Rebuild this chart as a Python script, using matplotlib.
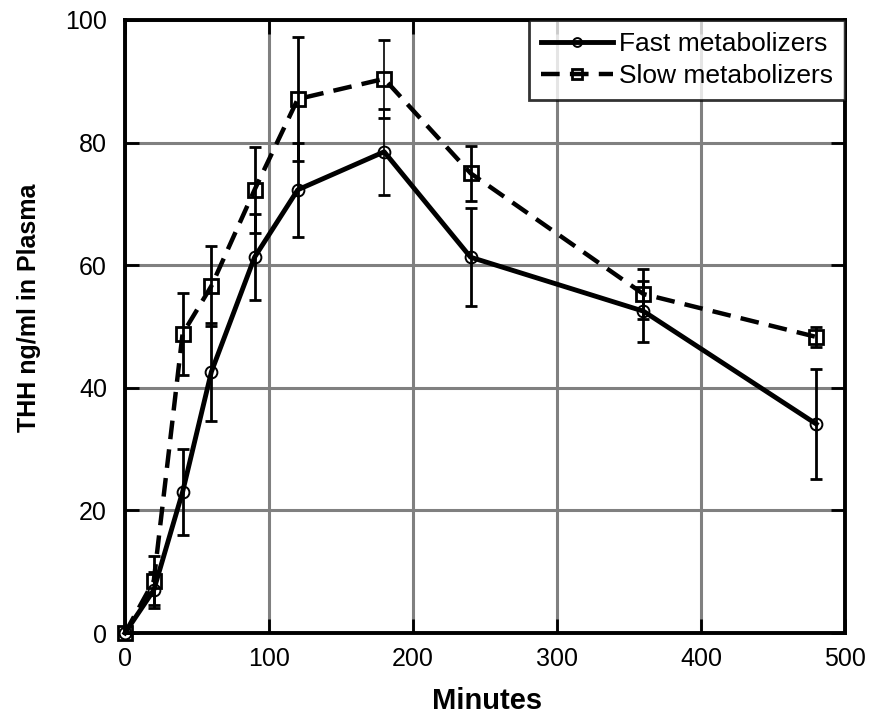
import numpy as np
import matplotlib
matplotlib.use("Agg")
import matplotlib.pyplot as plt

plt.rcParams['font.family'] = ['Liberation Sans', 'DejaVu Sans']

minutes = [0, 20, 40, 60, 90, 120, 180, 240, 360, 480]
fast_mean = [0, 7.0, 23.0, 42.6, 61.3, 72.3, 78.5, 61.3, 52.5, 34.1]
fast_err = [0, 3.0, 7.0, 8.0, 7.0, 7.7, 7.0, 8.0, 5.0, 8.9]
slow_mean = [0, 8.5, 48.8, 56.6, 72.3, 87.1, 90.4, 75.0, 55.3, 48.3]
slow_err = [0, 4.0, 6.7, 6.5, 7.0, 10.1, 6.4, 4.5, 4.1, 1.6]

fig = plt.figure(figsize=(8.69, 7.19), dpi=100)
ax = fig.add_axes([0.1438, 0.1196, 0.8286, 0.8526])

ax.grid(True, color='#808080', linewidth=2.2, zorder=0)
ax.set_axisbelow(True)

# error bars first, then the lines with markers on top
bar_widths = [2, 2, 2, 2, 2, 2, 1.2, 2, 2, 2]
for mean, err in [(slow_mean, slow_err), (fast_mean, fast_err)]:
    eb = ax.errorbar(minutes, mean, yerr=err, fmt='none', ecolor='black',
                     elinewidth=2, capsize=4, capthick=2, zorder=3)
    eb[2][0].set_linewidths(bar_widths)

ax.plot(minutes, fast_mean, color='black', linewidth=3.5, marker='o',
        markersize=8.5, markerfacecolor='none', markeredgewidth=1.4,
        label='Fast metabolizers', zorder=4, clip_on=False)
ax.plot(minutes, slow_mean, color='black', linewidth=3.2,
        linestyle=(0, (4.2, 2.3)), marker='s', markersize=10,
        markerfacecolor='none', markeredgewidth=2,
        label='Slow metabolizers', zorder=4, clip_on=False)

ax.set_xlim(0, 500)
ax.set_ylim(0, 100)
ax.set_xticks([0, 100, 200, 300, 400, 500])
ax.set_yticks([0, 20, 40, 60, 80, 100])
ax.tick_params(direction='in', length=10, width=2, labelsize=18,
               top=True, right=True)
ax.tick_params(axis='y', pad=13)
ax.tick_params(axis='x', pad=10)
for s in ax.spines.values():
    s.set_linewidth(2.8)

fig.text(487 / 869, 1 - 701 / 719, 'Minutes', fontsize=21, fontweight='bold',
         ha='center', va='center')
fig.text(29 / 869, 1 - 308 / 719, 'THH ng/ml in Plasma', fontsize=18,
         fontweight='bold', rotation=90, ha='center', va='center')

leg = ax.legend(loc='upper right', fontsize=19, frameon=True, fancybox=False,
                borderaxespad=0, handlelength=2.7, handletextpad=0.25,
                borderpad=0.45, labelspacing=0.3, markerscale=0.75)
leg.get_frame().set_edgecolor('black')
leg.get_frame().set_linewidth(2)
leg.set_zorder(5)

fig.savefig('out.png', dpi=100)
